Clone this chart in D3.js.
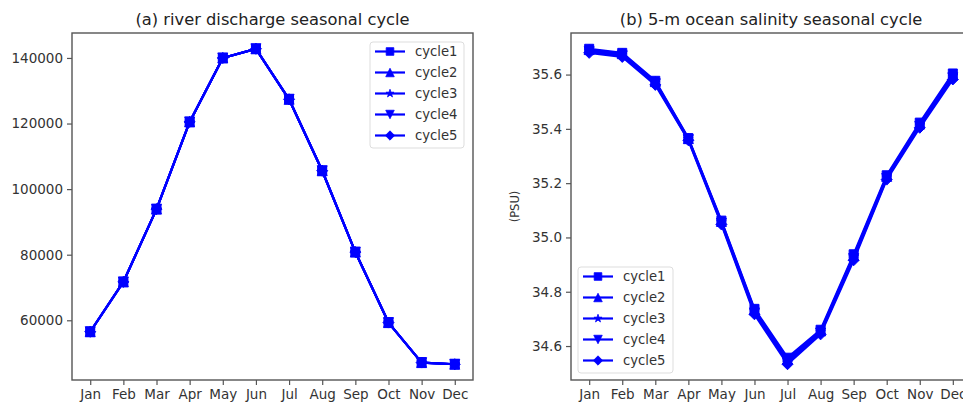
<!DOCTYPE html>
<html>
<head>
<meta charset="utf-8">
<script src="https://cdn.jsdelivr.net/npm/d3@7/dist/d3.min.js"></script>
<style>
  html, body { margin: 0; padding: 0; background: #fff; }
  svg { display: block; font-family: "DejaVu Sans", sans-serif; }
</style>
</head>
<body>
<svg id="chart" width="963" height="405"></svg>
<script>
// ---------------- data ----------------
const months = ["Jan","Feb","Mar","Apr","May","Jun","Jul","Aug","Sep","Oct","Nov","Dec"];
const cycleNames = ["cycle1","cycle2","cycle3","cycle4","cycle5"];

// (a) river discharge (same for all cycles)
const discharge1 = [56500, 71700, 93900, 120500, 140000, 142800, 127400, 105600, 80800, 59300, 47100, 46600];
const discharge2 = [56500, 71700, 93900, 120500, 140000, 142800, 127400, 105600, 80800, 59300, 47100, 46600];
const discharge3 = [56500, 71700, 93900, 120500, 140000, 142800, 127400, 105600, 80800, 59300, 47100, 46600];
const discharge4 = [56500, 71700, 93900, 120500, 140000, 142800, 127400, 105600, 80800, 59300, 47100, 46600];
const discharge5 = [56500, 71700, 93900, 120500, 140000, 142800, 127400, 105600, 80800, 59300, 47100, 46600];

// (b) 5-m ocean salinity (PSU)
const salinity1 = [35.695, 35.680, 35.577, 35.366, 35.062, 34.737, 34.557, 34.660, 34.938, 35.229, 35.423, 35.604];
const salinity2 = [35.692, 35.677, 35.574, 35.364, 35.059, 34.733, 34.552, 34.656, 34.933, 35.225, 35.418, 35.599];
const salinity3 = [35.688, 35.673, 35.570, 35.362, 35.056, 34.728, 34.546, 34.652, 34.928, 35.221, 35.413, 35.594];
const salinity4 = [35.684, 35.669, 35.566, 35.360, 35.052, 34.722, 34.539, 34.648, 34.922, 35.217, 35.409, 35.588];
const salinity5 = [35.680, 35.665, 35.562, 35.358, 35.048, 34.717, 34.533, 34.643, 34.916, 35.213, 35.404, 35.582];

const dischargeTicks = [60000, 80000, 100000, 120000, 140000];
const salinityTicks = [34.6, 34.8, 35.0, 35.2, 35.4, 35.6];

// ---------------- drawing ----------------
const svg = d3.select("#chart");
const BLUE = "#0000ff";
const SPINE = "#555";

// marker paths (centered at 0,0), matplotlib-like, markersize ms in px
function markerPath(type, ms) {
  const h = ms / 2;
  if (type === "s") return `M${-h},${-h}H${h}V${h}H${-h}Z`;
  if (type === "^") return `M0,${-h}L${h},${h}L${-h},${h}Z`;
  if (type === "v") return `M0,${h}L${h},${-h}L${-h},${-h}Z`;
  if (type === "D") { const d = h * 1.0; return `M0,${-d}L${d},0L0,${d}L${-d},0Z`; }
  if (type === "*") {
    const R = h, r = h * 0.38; let p = "";
    for (let i = 0; i < 10; i++) {
      const rad = i % 2 === 0 ? R : r;
      const a = -Math.PI / 2 + i * Math.PI / 5;
      p += (i === 0 ? "M" : "L") + (rad * Math.cos(a)).toFixed(2) + "," + (rad * Math.sin(a)).toFixed(2);
    }
    return p + "Z";
  }
}
const markers = ["s", "^", "*", "v", "D"];
const markerSize = { s: 9, "^": 10, "*": 10, v: 10, D: 11 };

function panel(opts) {
  const { left, right, top, bottom, series, ticks, tickFmt, title, ylabel, legendPos } = opts;
  const g = svg.append("g");
  const x = d3.scaleLinear().domain([-0.55, 11.55]).range([left, right]);
  const all = series.flat();
  const [mn, mx] = d3.extent(all);
  const pad = (mx - mn) * 0.05;
  const y = d3.scaleLinear().domain([mn - pad, mx + pad]).range([bottom, top]);

  // lines + markers
  series.forEach((vals, si) => {
    const line = d3.line().x((d, i) => x(i)).y(d => y(d));
    g.append("path").attr("d", line(vals)).attr("fill", "none")
      .attr("stroke", BLUE).attr("stroke-width", 2.2).attr("stroke-linejoin", "round");
    const mk = markers[si];
    g.selectAll(null).data(vals).enter().append("path")
      .attr("d", markerPath(mk, markerSize[mk]))
      .attr("transform", (d, i) => `translate(${x(i)},${y(d)})`)
      .attr("fill", BLUE).attr("stroke", BLUE).attr("stroke-width", 1);
  });

  // axes
  const xAxis = d3.axisBottom(x).tickValues(d3.range(12)).tickFormat(i => months[i])
    .tickSize(5).tickPadding(4);
  const gx = g.append("g").attr("transform", `translate(0,${bottom})`).call(xAxis);
  const yAxis = d3.axisLeft(y).tickValues(ticks).tickFormat(tickFmt).tickSize(5).tickPadding(4);
  const gy = g.append("g").attr("transform", `translate(${left},0)`).call(yAxis);
  [gx, gy].forEach(a => {
    a.select(".domain").remove();
    a.selectAll(".tick line").attr("stroke", SPINE).attr("stroke-width", 1.2);
    a.selectAll(".tick text").attr("fill", "#333").style("font-size", "13.5px")
      .style("font-family", "'DejaVu Sans', sans-serif");
  });

  // spines (box)
  g.append("rect").attr("x", left).attr("y", top).attr("width", right - left).attr("height", bottom - top)
    .attr("fill", "none").attr("stroke", SPINE).attr("stroke-width", 1.4);

  // title
  g.append("text").attr("x", (left + right) / 2).attr("y", 25).attr("text-anchor", "middle")
    .style("font-size", "16.3px").attr("fill", "#222").text(title);

  if (ylabel) {
    g.append("text").attr("transform", `translate(${left - 52},${(top + bottom) / 2}) rotate(-90)`)
      .attr("text-anchor", "middle").style("font-size", "11.5px").attr("fill", "#333").text(ylabel);
  }

  // legend
  const lg = g.append("g").attr("transform", `translate(${legendPos[0]},${legendPos[1]})`);
  lg.append("rect").attr("x", 0).attr("y", 0).attr("width", legendPos[2]).attr("height", 106)
    .attr("rx", 3).attr("fill", "#fff").attr("fill-opacity", 0.85).attr("stroke", "#ddd").attr("stroke-width", 1);
  cycleNames.forEach((name, i) => {
    const cy = 9.5 + i * 21;
    lg.append("line").attr("x1", 5).attr("x2", 35).attr("y1", cy).attr("y2", cy)
      .attr("stroke", BLUE).attr("stroke-width", 2.2);
    const mk = markers[i];
    lg.append("path").attr("d", markerPath(mk, markerSize[mk] * 0.85))
      .attr("transform", `translate(20,${cy})`).attr("fill", BLUE).attr("stroke", BLUE).attr("stroke-width", 0.8);
    lg.append("text").attr("x", 45).attr("y", cy).attr("dy", "0.35em")
      .style("font-size", "13.2px").attr("fill", "#333").text(name);
  });
}

panel({
  left: 72, right: 473, top: 33, bottom: 380,
  series: [discharge1, discharge2, discharge3, discharge4, discharge5],
  ticks: dischargeTicks, tickFmt: d => String(d),
  title: "(a) river discharge seasonal cycle", ylabel: null,
  legendPos: [370, 42, 94]
});

panel({
  left: 571, right: 971, top: 33, bottom: 380,
  series: [salinity1, salinity2, salinity3, salinity4, salinity5],
  ticks: salinityTicks, tickFmt: d => d.toFixed(1),
  title: "(b) 5-m ocean salinity seasonal cycle", ylabel: "(PSU)",
  legendPos: [578, 267, 95]
});
</script>
</body>
</html>
